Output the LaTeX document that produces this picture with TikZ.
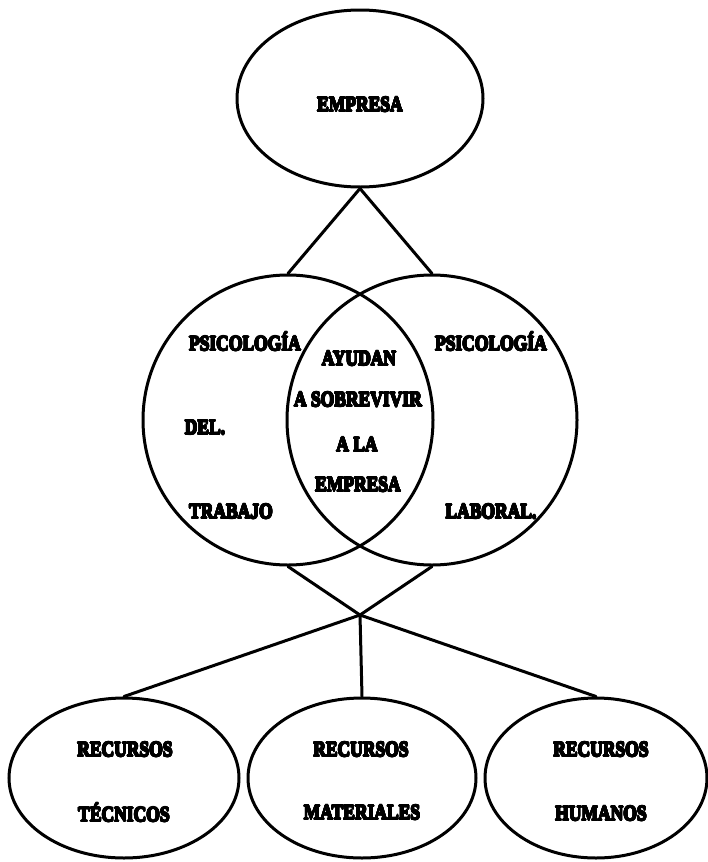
\documentclass[tikz,border=0pt]{standalone}
\usepackage{fontspec}
\setmainfont{Liberation Serif}
\usepackage[copies]{contour}
\contourlength{0.6pt}
\contournumber{16}
\usetikzlibrary{shapes.geometric}
\newcommand{\heavy}[1]{\contour{black}{#1}}
\begin{document}
\begin{tikzpicture}[x=1pt,y=-1pt,
  outline/.style={draw=black,line width=3pt},
  oval/.style={outline,ellipse,inner sep=0pt},
  ring/.style={outline,circle,inner sep=0pt,minimum size=290pt},
  link/.style={draw=black,line width=3pt,line cap=round},
  label/.style={font=\bfseries\fontsize{17.5}{20}\selectfont,inner sep=0pt,yscale=1.22}]
\useasboundingbox (0,0) rectangle (707,862);

% top oval
\node[oval,minimum width=246pt,minimum height=177pt] (empresa) at (360,98.5) {};
\node[label] (tEmp) at (360,105) {\heavy{EMPRESA}};

% two overlapping circles
\node[ring] (psl) at (288,420) {};
\node[ring] (pl) at (432,420) {};

\node[label] (l1) at (245,342) {\heavy{PSICOLOGÍA}};
\node[label] (l2) at (205,428) {\heavy{DEL.}};
\node[label] (l3) at (231,512) {\heavy{TRABAJO}};

\node[label] (r1) at (491,342) {\heavy{PSICOLOGÍA}};
\node[label] (r2) at (491,512) {\heavy{LABORAL.}};

\node[label] (c1) at (359,359) {\heavy{AYUDAN}};
\node[label] (c2) at (358,400) {\heavy{A SOBREVIVIR}};
\node[label] (c3) at (357,445) {\heavy{A LA}};
\node[label] (c4) at (358,485) {\heavy{EMPRESA}};

% bottom ovals
\node[oval,minimum width=230pt,minimum height=160pt] (rt) at (124,778) {};
\node[oval,minimum width=228pt,minimum height=160pt] (rm) at (362,778) {};
\node[oval,minimum width=222pt,minimum height=160pt] (rh) at (596,778) {};

\node[label] (rt1) at (125,750) {\heavy{RECURSOS}};
\node[label] (rt2) at (124,813) {\heavy{TÉCNICOS}};
\node[label] (rm1) at (361,750) {\heavy{RECURSOS}};
\node[label] (rm2) at (362,813) {\heavy{MATERIALES}};
\node[label] (rh1) at (601,750) {\heavy{RECURSOS}};
\node[label] (rh2) at (601,814) {\heavy{HUMANOS}};

% connectors
\coordinate (j) at (360,615);
\draw[link] (empresa.south) -- (psl.north);
\draw[link] (empresa.south) -- (pl.north);
\draw[link] (psl.south) -- (j);
\draw[link] (pl.south) -- (j);
\draw[link] (j) -- (rt.north);
\draw[link] (j) -- (rm.north);
\draw[link] (j) -- (rh.north);
\end{tikzpicture}
\end{document}
